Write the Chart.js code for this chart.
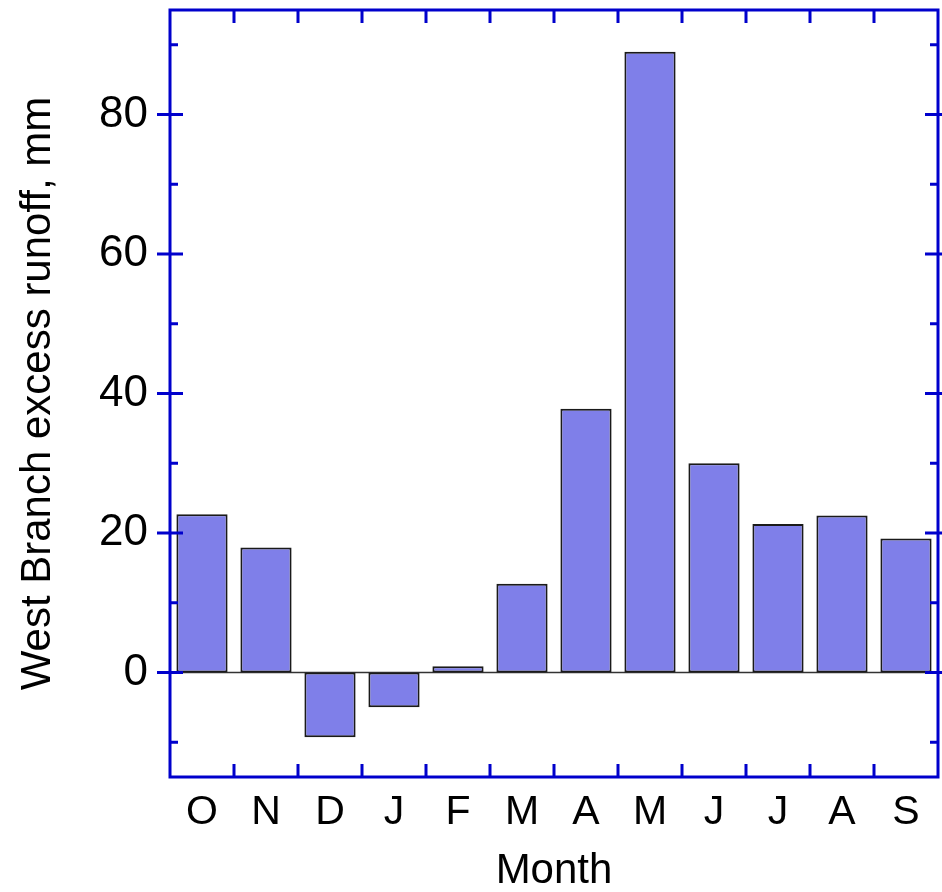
<!DOCTYPE html>
<html>
<head>
<meta charset="utf-8">
<script src="https://cdn.jsdelivr.net/npm/chart.js@4"></script>
<style>
  html, body { margin: 0; padding: 0; background: #fff; }
  #wrap { width: 942px; height: 892px; }
</style>
</head>
<body>
<div id="wrap"><canvas id="myChart"></canvas></div>
<script>
const months = ['O', 'N', 'D', 'J', 'F', 'M', 'A', 'M', 'J', 'J', 'A', 'S']
const runoff = [22.7, 17.9, -9.3, -5.0, 0.9, 12.7, 37.8, 89.0, 30.0, 21.3, 22.5, 19.2]
const majorTicks = [0, 20, 40, 60, 80]
const minorTicks = [-10, 10, 30, 50, 70, 90]

const axisBlue = '#0000cc'

// frame, tick marks and the zero line
const framePlugin = {
    id: 'frame',
    beforeDatasetsDraw(chart) {
        const {ctx, chartArea: a, scales: {y}} = chart
        const y0 = Math.round(y.getPixelForValue(0)) + 0.5
        ctx.save()
        ctx.strokeStyle = '#333'
        ctx.lineWidth = 1.5
        ctx.beginPath()
        ctx.moveTo(a.left, y0)
        ctx.lineTo(a.right, y0)
        ctx.stroke()
        ctx.restore()
    },
    afterDraw(chart) {
        const {ctx, chartArea: a, scales: {x, y}} = chart
        ctx.save()
        ctx.strokeStyle = axisBlue
        ctx.lineWidth = 3
        ctx.beginPath()
        majorTicks.forEach(v => {
            const py = y.getPixelForValue(v)
            ctx.moveTo(a.left - 13, py)
            ctx.lineTo(a.left + 13, py)
            ctx.moveTo(a.right - 13, py)
            ctx.lineTo(a.right + 13, py)
        })
        minorTicks.forEach(v => {
            const py = y.getPixelForValue(v)
            ctx.moveTo(a.left, py)
            ctx.lineTo(a.left + 8, py)
            ctx.moveTo(a.right - 8, py)
            ctx.lineTo(a.right, py)
        })
        for (let i = 1; i < months.length; i++) {
            const px = (x.getPixelForValue(i - 1) + x.getPixelForValue(i)) / 2
            ctx.moveTo(px, a.bottom)
            ctx.lineTo(px, a.bottom - 13)
            ctx.moveTo(px, a.top)
            ctx.lineTo(px, a.top + 13)
        }
        ctx.stroke()
        ctx.strokeRect(a.left, a.top, a.right - a.left, a.bottom - a.top)
        ctx.restore()
    }
}

const ctx = document.getElementById('myChart')

new Chart(ctx, {
    type: 'bar',
    data: {
        labels: months,
        datasets: [{
            data: runoff,
            backgroundColor: '#7f7fe9',
            borderColor: '#1a1a1a',
            borderWidth: 2,
            borderSkipped: false,
            barPercentage: 0.8,
            categoryPercentage: 1.0
        }]
    },
    options: {
        responsive: true,
        maintainAspectRatio: false,
        animation: false,
        events: [],
        layout: {padding: {top: 10, right: 4, left: 0, bottom: 0}},
        plugins: {legend: {display: false}, tooltip: {enabled: false}},
        scales: {
            x: {
                grid: {display: false, drawTicks: false},
                border: {display: false},
                ticks: {
                    color: '#000',
                    padding: 11,
                    font: {family: 'Liberation Sans', size: 41}
                },
                title: {
                    display: true,
                    text: 'Month',
                    color: '#000',
                    font: {family: 'Liberation Sans', size: 42, lineHeight: 1},
                    padding: {top: -4, bottom: 0}
                },
                afterFit(scale) {
                    scale.height = 115
                    scale.paddingLeft = 0
                    scale.paddingRight = 0
                }
            },
            y: {
                min: -15,
                max: 95,
                afterBuildTicks(scale) {
                    scale.ticks = majorTicks.map(v => ({value: v}))
                },
                grid: {display: false, drawTicks: false},
                border: {display: false},
                ticks: {
                    color: '#000',
                    padding: 22,
                    font: {family: 'Liberation Sans', size: 44}
                },
                title: {
                    display: true,
                    text: 'West Branch excess runoff, mm',
                    color: '#000',
                    font: {family: 'Liberation Sans', size: 42, lineHeight: 1},
                    padding: {top: 17, bottom: 0}
                },
                afterFit(scale) {
                    scale.width = 170
                    scale.paddingTop = 0
                    scale.paddingBottom = 0
                }
            }
        }
    },
    plugins: [framePlugin]
})
</script>
</body>
</html>
